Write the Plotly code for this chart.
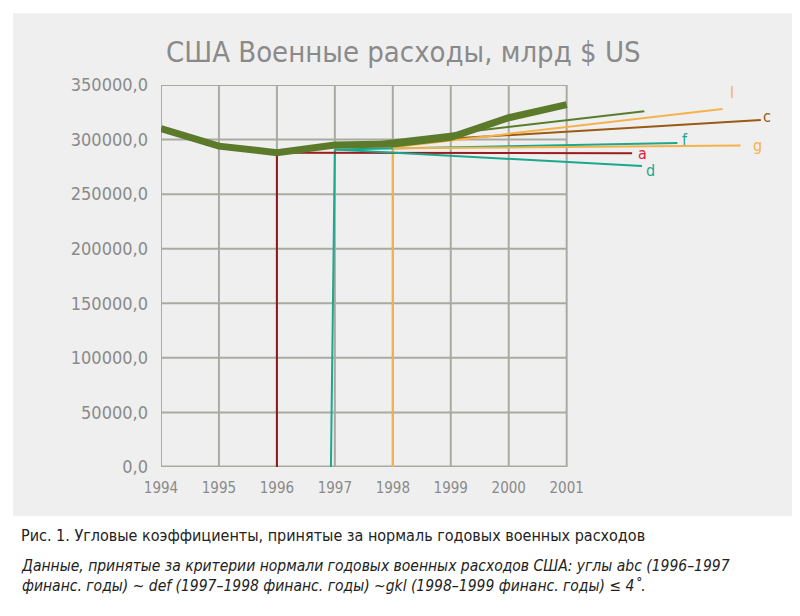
import plotly.graph_objects as go

years = [1994, 1995, 1996, 1997, 1998, 1999, 2000, 2001]
spend = [310000, 294000, 288000, 295000, 296000, 302000, 320000, 332000]
ytick_vals = [0, 50000, 100000, 150000, 200000, 250000, 300000, 350000]
ytick_text = ["0,0", "50000,0", "100000,0", "150000,0", "200000,0", "250000,0", "300000,0", "350000,0"]

# normal lines: name, colour, (x0, y0), (x1, y1)
normals = [
    ("a", "#9b1c1c", (1996, 288000), (2002.13, 287500)),
    ("b", "#5a7d2a", (1997, 293000), (2002.34, 326000)),
    ("c", "#9a5a12", (1997, 294500), (2004.35, 318000)),
    ("d", "#1aa88e", (1997, 291000), (2002.30, 275700)),
    ("f", "#1aa88e", (1997, 291000), (2002.91, 296800)),
    ("g", "#f6b24a", (1998, 292000), (2004.0, 294500)),
    ("l", "#f6b24a", (1998, 293000), (2003.69, 328000)),
]
verticals = [("#8b1a1a", 1996, 1996, 288000), ("#1aa88e", 1997.0, 1996.93, 291000), ("#f6b24a", 1998, 1998, 292000)]
labels = [("l", 2003.85, 343000, "#f6b24a"), ("c", 2004.45, 321000, "#9a5a12"), ("f", 2003.05, 300500, "#1aa88e"),
          ("g", 2004.3, 294500, "#f6b24a"), ("a", 2002.3, 287000, "#e0203a"), ("d", 2002.45, 272000, "#1aa88e")]

fig = go.Figure()
grid = "#aaaaa2"
shapes = [dict(type="rect", xref="paper", yref="paper", x0=-0.2376, x1=1.0225, y0=-0.128, y1=1.188,
               fillcolor="#efefef", line_width=0, layer="below")]
for v in ytick_vals:
    shapes.append(dict(type="line", x0=1994, x1=2001, y0=v, y1=v, line=dict(color=grid, width=2), layer="below"))
for yr in years:
    shapes.append(dict(type="line", x0=yr, x1=yr, y0=0, y1=350000, line=dict(color=grid, width=2), layer="below"))
shapes.append(dict(type="line", x0=1994, x1=2001, y0=0, y1=0, line=dict(color=grid, width=3), layer="below"))
fig.update_layout(shapes=shapes)

for col, xt, xb, yt in verticals:
    fig.add_trace(go.Scatter(x=[xt, xb], y=[yt, -9000], mode="lines", line=dict(color=col, width=2), cliponaxis=False, showlegend=False))
for name, col, p0, p1 in normals:
    fig.add_trace(go.Scatter(x=[p0[0], p1[0]], y=[p0[1], p1[1]], mode="lines", line=dict(color=col, width=2), cliponaxis=False, showlegend=False))
fig.add_trace(go.Scatter(x=years, y=spend, mode="lines", line=dict(color="#5b7a2a", width=7), showlegend=False))

font = "DejaVu Sans Condensed"
ann = []
for t, x, y, c in labels:
    ann.append(dict(x=x, y=y, text=t, showarrow=False, font=dict(color=c, size=16, family=font)))
ann.append(dict(xref="paper", yref="paper", x=-0.228, y=-0.18, xanchor="left", yanchor="middle", showarrow=False,
                text="Рис. 1. Угловые коэффициенты, принятые за нормаль годовых военных расходов",
                font=dict(size=16, color="#222", family=font)))
ann.append(dict(xref="paper", yref="paper", x=-0.228, y=-0.285, xanchor="left", yanchor="middle", showarrow=False, align="left",
                text="<i>Данные, принятые за критерии нормали годовых военных расходов США: углы abc (1996–1997<br>финанс. годы) ~ def (1997–1998 финанс. годы) ~gkl (1998–1999 финанс. годы) ≤ 4˚.</i>",
                font=dict(size=15.5, color="#222", family=font)))
ann.append(dict(xref="paper", yref="paper", x=0.39, y=1.135, xanchor="center", showarrow=False, text="США Военные расходы, млрд $ US",
                font=dict(size=29, color="#8a8a8a", family=font)))
fig.update_layout(
    width=800, height=616, margin=dict(l=153, r=24, t=77, b=157),
    paper_bgcolor="white", plot_bgcolor="rgba(0,0,0,0)", annotations=ann,
    xaxis=dict(range=[1994, 2004.75], tickvals=years, showgrid=False, zeroline=False, showline=False, automargin=False,
               tickfont=dict(size=15, color="#8a8a8a", family=font), ticks="", ticklabelstandoff=10),
    yaxis=dict(range=[0, 350000], tickvals=ytick_vals, ticktext=ytick_text, showgrid=False, zeroline=False, automargin=False,
               tickfont=dict(size=18, color="#8a8a8a", family=font), ticklabelstandoff=12),
)
fig.write_html("out.html")
